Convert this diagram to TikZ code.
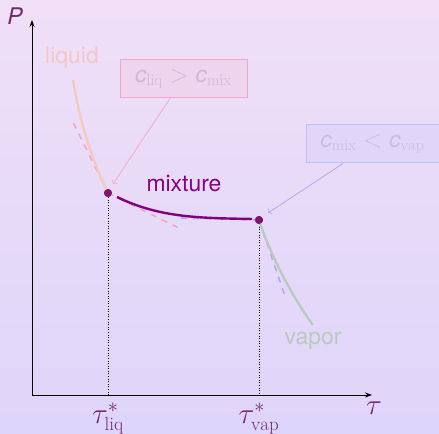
\documentclass[tikz,border=0pt]{standalone}
\usepackage{fontspec}
\setsansfont{TeX Gyre Heros}
\usetikzlibrary{arrows.meta}
\definecolor{bgtop}{RGB}{240,223,247}
\definecolor{bgbot}{RGB}{222,213,250}
\definecolor{liqc}{RGB}{243,203,190}
\definecolor{liqlab}{RGB}{242,200,200}
\definecolor{pinkd}{RGB}{240,165,195}
\definecolor{mixc}{RGB}{128,0,128}
\definecolor{dotc}{RGB}{130,20,110}
\definecolor{vapc}{RGB}{185,202,190}
\definecolor{blued}{RGB}{168,168,245}
\definecolor{boxAdraw}{RGB}{240,170,200}
\definecolor{boxAfill}{RGB}{238,212,236}
\definecolor{boxAtext}{RGB}{212,182,218}
\definecolor{boxBdraw}{RGB}{195,190,250}
\definecolor{boxBfill}{RGB}{224,214,249}
\definecolor{boxBtext}{RGB}{200,190,228}
\definecolor{axlab}{RGB}{115,40,105}
\definecolor{mixlab}{RGB}{135,0,135}
\newcommand{\sfc}{\mbox{\sffamily\itshape c}}
\begin{document}
\begin{tikzpicture}[x=1bp,y=1bp,
  every node/.style={font=\fontsize{23}{27}\selectfont},
  axis/.style={line width=0.8bp,-{Stealth[length=7bp,width=5bp]}},
  dotpt/.style={circle,fill=dotc,inner sep=0pt,minimum size=8bp},
  curve/.style={line width=2.4bp},
  tang/.style={line width=1.5bp,dash pattern=on 6bp off 6bp},
  guide/.style={dotted,line width=0.6bp},
  cbox/.style={minimum width=127bp,minimum height=38bp,inner sep=0pt,line width=1bp},
  callout/.style={line width=0.8bp,->},
  ticklab/.style={text=axlab,scale=1.18,transform shape},
  lab/.style={font=\sffamily\fontsize{23}{27}\selectfont}]
\useasboundingbox (0,0) rectangle (439,434);
\shade[top color=bgtop,bottom color=bgbot] (0,0) rectangle (439,434);
% axes
\coordinate (O) at (32,39);
\coordinate (Ytop) at (32,414);
\coordinate (Xend) at (372,39);
\draw[axis] (O) -- (Ytop);
\draw[axis] (O) -- (Xend);
\node[lab,text=axlab,font=\sffamily\itshape\fontsize{23}{27}\selectfont] (Plab) at (15,418) {P};
\node[ticklab] (taulab) at (374,26) {$\tau$};
% points
\node[dotpt] (L) at (108,241) {};
\node[dotpt] (V) at (259,214) {};
\draw[guide] (L) -- (L |- O);
\draw[guide] (V) -- (V |- O);
\node[ticklab] (tl) at (108,15) {$\tau^*_{\mathrm{liq}}$};
\node[ticklab] (tv) at (259,15) {$\tau^*_{\mathrm{vap}}$};
% tangents
\coordinate (tL1) at (71,316);
\coordinate (tL2) at (181,205);
\coordinate (tV1) at (180,216);
\coordinate (tV2) at (285,138);
\draw[tang,pinkd] (L.center) -- (tL1);
\draw[tang,pinkd] (L.center) -- (tL2);
\draw[tang,blued] (V.center) -- (tV1);
\draw[tang,blued] (V.center) -- (tV2);
% curves
\coordinate (liqS) at (73,354);
\coordinate (mixS) at (117,237);
\coordinate (mixE) at (252,215);
\coordinate (vapE) at (313,109);
\draw[curve,liqc] (liqS) .. controls (80,310) and (92,275) .. (L.center);
\draw[curve,mixc] (mixS) .. controls (160,216) and (200,216) .. (mixE);
\draw[curve,vapc] (V.center) .. controls (268,185) and (290,140) .. (vapE);
\node[dotpt] at (L) {};
\node[dotpt] at (V) {};
% labels
\node[lab,text=liqlab] (liqlabel) at (72,376) {liquid};
\node[lab,text=mixlab] (mixlabel) at (184,250) {mixture};
\node[lab,text=vapc] (vaplabel) at (313,93) {vapor};
% callout boxes
\node[cbox,draw=boxAdraw,fill=boxAfill,text=boxAtext] (boxA) at (183.5,355) {$\sfc_{\mathrm{liq}} > \sfc_{\mathrm{mix}}$};
\node[cbox,minimum width=133bp,draw=boxBdraw,fill=boxBfill,text=boxBtext] (boxB) at (372.5,290) {$\sfc_{\mathrm{mix}} < \sfc_{\mathrm{vap}}$};
\coordinate (aA) at (113,250);
\coordinate (aB) at (268,221);
\draw[callout,boxAdraw] (boxA.south -| 170,0) -- (aA);
\draw[callout,boxBdraw!90!blue] (boxB.south -| 343,0) -- (aB);
\end{tikzpicture}
\end{document}
